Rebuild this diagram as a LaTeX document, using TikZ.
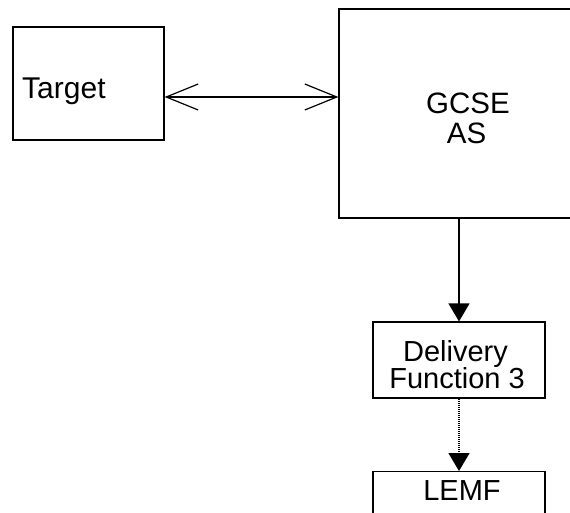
\documentclass[tikz,border=0pt]{standalone}
\usepackage{fontspec}
\setmainfont{Liberation Sans}
\usetikzlibrary{arrows.meta}
\begin{document}
\begin{tikzpicture}[x=1pt,y=-1pt,
  box/.style={draw,line width=1.2pt,rectangle,inner sep=0pt},
  label/.style={inner sep=0pt,anchor=base,font=\fontsize{29.5}{33}\selectfont},
  openarrow/.style={line width=1.2pt,{Straight Barb[length=32pt,width=26pt,line width=1.2pt]}-{Straight Barb[length=32pt,width=26pt,line width=1.2pt]}},
  solidarrow/.style={line width=1.2pt,-{Triangle[length=18pt,width=21pt]}},
  dotarrow/.style={line width=1.3pt,dash pattern=on 1pt off 1pt,-{Triangle[length=18pt,width=21pt]}}]
\useasboundingbox (0,0) rectangle (570,513);
\clip (0,0) rectangle (570,513);
\fill[white] (0,0) rectangle (570,513);
\node[box,minimum width=151pt,minimum height=113pt] (target) at (88.5,83.5) {};
\node[box,minimum width=254pt,minimum height=209pt] (gcse) at (466,113.5) {};
\node[box,minimum width=172pt,minimum height=76pt] (dlv) at (459,360) {};
\node[box,minimum width=172pt,minimum height=76pt,anchor=north] (lemf) at (459,471) {};
\node[label,anchor=base west,font=\fontsize{30}{33}\selectfont] (targett) at (22,98.3) {Target};
\node[label] (gcset1) at (468,113.3) {GCSE};
\node[label] (gcset2) at (466.5,143.3) {AS};
\node[label,font=\fontsize{29}{33}\selectfont] (dlvt1) at (455.5,361.7) {Delivery};
\node[label,font=\fontsize{29}{33}\selectfont] (dlvt2) at (457,388.3) {Function 3};
\node[label,font=\fontsize{29}{33}\selectfont] (lemft) at (462,500.5) {LEMF};
\coordinate (ay) at (0,97);
\draw[openarrow] (target.east |- ay) -- (gcse.west |- ay);
\draw[solidarrow] (dlv.north |- gcse.south) -- (dlv.north);
\draw[dotarrow] (dlv.south) -- (lemf.north);
\end{tikzpicture}
\end{document}
